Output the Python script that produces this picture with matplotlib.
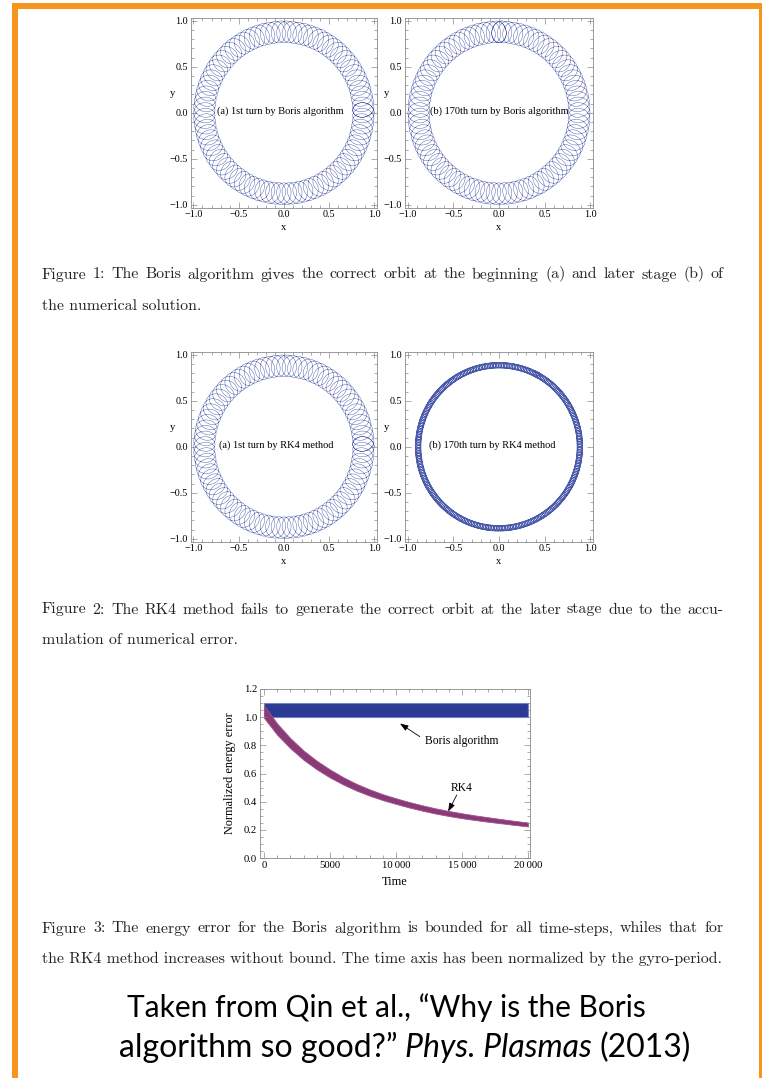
import numpy as np
import matplotlib
matplotlib.use("Agg")
import matplotlib.pyplot as plt
from matplotlib.patches import Rectangle
from matplotlib.ticker import MultipleLocator, FuncFormatter

W, H = 762, 1078

# orbit geometry: guiding-centre radius, gyro radius
# (radial / tangential), gyrations per turn, start angle of the turn (deg)
orbit_1a = dict(R=0.88, r=0.118, squeeze=0.8, loops=90, start=0)
orbit_1b = dict(R=0.88, r=0.118, squeeze=0.8, loops=90, start=88)
orbit_2a = dict(R=0.88, r=0.118, squeeze=0.8, loops=90, start=0)
orbit_2b = dict(R=0.886, r=0.031, squeeze=1.0, loops=320, start=60)

panel_labels = ["(a) 1st turn by Boris algorithm",
                "(b) 170th turn by Boris algorithm",
                "(a) 1st turn by RK4 method",
                "(b) 170th turn by RK4 method"]
label_x = [-0.04, 0.0, -0.08, -0.07]

# energy error (figure 3)
boris_t = [0, 20000]
boris_lo = [1.0, 1.0]
boris_hi = [1.1, 1.1]

rk4_t = [0, 1000, 2000, 3000, 4000, 5000, 6000, 7000, 8000, 9000, 10000,
         11000, 12000, 13000, 14000, 15000, 16000, 17000, 18000, 19000, 20000]
rk4_mid = [1.04, 0.915, 0.815, 0.73, 0.66, 0.60, 0.548, 0.503, 0.465, 0.432, 0.404,
           0.378, 0.355, 0.334, 0.316, 0.300, 0.286, 0.273, 0.261, 0.249, 0.238]
rk4_width = [0.09, 0.08, 0.072, 0.066, 0.061, 0.057, 0.052, 0.048, 0.045, 0.042, 0.04,
             0.039, 0.038, 0.037, 0.036, 0.035, 0.033, 0.032, 0.030, 0.029, 0.028]

time_ticks = [0, 5000, 10000, 15000, 20000]
time_labels = ["0", "5000", "10\u2009000", "15\u2009000", "20\u2009000"]

captions = [
    ("Figure 1: The Boris algorithm gives the correct orbit at the beginning (a) and later stage (b) of",
     "the numerical solution.", 278.5, 310),
    ("Figure 2: The RK4 method fails to generate the correct orbit at the later stage due to the accu-",
     "mulation of numerical error.", 613.5, 644.5),
    ("Figure 3: The energy error for the Boris algorithm is bounded for all time-steps, whiles that for",
     "the RK4 method increases without bound. The time axis has been normalized by the gyro-period.",
     932.5, 963.5),
]

SERIF = "Liberation Serif"
ORBIT_BLUE = "#4a5aaa"
FRAME = "#8a8a8a"

fig = plt.figure(figsize=(W / 100, H / 100), dpi=100)
fig.patch.set_facecolor("white")


def px_axes(left, top, right, bottom):
    return fig.add_axes([left / W, 1 - bottom / H, (right - left) / W, (bottom - top) / H])


def minus_fmt(v, pos):
    return f"{v:.1f}".replace("-", "\u2212")


def frame_style(ax, size=7.3):
    for sp in ax.spines.values():
        sp.set_color(FRAME)
        sp.set_linewidth(0.6)
    ax.tick_params(which="both", direction="in", top=True, right=True, color=FRAME,
                   width=0.5, labelsize=size, pad=2)
    ax.tick_params(which="major", length=4)
    ax.tick_params(which="minor", length=2)
    for lab in ax.get_xticklabels() + ax.get_yticklabels():
        lab.set_family(SERIF)


def gyro_orbit(R, r, squeeze, loops, start, turns=1.01, pts=60):
    s = np.linspace(0, 1, int(loops * turns * pts))
    phi = np.radians(start) + 2 * np.pi * turns * s
    psi = 2 * np.pi * loops * turns * s
    rad = R + r * np.cos(psi)
    tan = squeeze * r * np.sin(psi)
    x = rad * np.cos(phi) - tan * np.sin(phi)
    y = rad * np.sin(phi) + tan * np.cos(phi)
    return x, y


def orbit_panel(box, orbit, label, lx, lw=0.32):
    ax = px_axes(*box)
    x, y = gyro_orbit(**orbit)
    ax.plot(x, y, color=ORBIT_BLUE, lw=lw)
    ax.set_xlim(-1.03, 1.03)
    ax.set_ylim(-1.03, 1.03)
    ax.xaxis.set_major_locator(MultipleLocator(0.5))
    ax.yaxis.set_major_locator(MultipleLocator(0.5))
    ax.xaxis.set_minor_locator(MultipleLocator(0.1))
    ax.yaxis.set_minor_locator(MultipleLocator(0.1))
    ax.xaxis.set_major_formatter(FuncFormatter(minus_fmt))
    ax.yaxis.set_major_formatter(FuncFormatter(minus_fmt))
    frame_style(ax)
    ax.text(0.5, -0.105, "x", transform=ax.transAxes, ha="center", va="center",
            family=SERIF, fontsize=7.6)
    ax.text(-0.1, 0.6, "y", transform=ax.transAxes, ha="center", va="center",
            family=SERIF, fontsize=7.6)
    ax.text(lx, 0.02, label, ha="center", va="center", family=SERIF, fontsize=7.5)
    return ax


orbit_panel((190.7, 18, 377, 207.5), orbit_1a, panel_labels[0], label_x[0])
orbit_panel((405, 18, 593, 207.5), orbit_1b, panel_labels[1], label_x[1])
orbit_panel((190.7, 352, 377, 541.5), orbit_2a, panel_labels[2], label_x[2])
orbit_panel((405, 352, 593, 541.5), orbit_2b, panel_labels[3], label_x[3], lw=0.45)

# figure 3: energy error
ax3 = px_axes(260, 689, 530, 858)
ax3.fill_between(boris_t, boris_lo, boris_hi, color="#2b3a92", lw=0.8,
                 edgecolor="#7482c4")
mid = np.array(rk4_mid)
half = np.array(rk4_width) / 2
ax3.fill_between(rk4_t, mid - half, mid + half, color="#8b3a78", lw=0.6,
                 edgecolor="#a0528e")
ax3.set_xlim(-300, 20150)
ax3.set_ylim(0, 1.2)
ax3.set_xticks(time_ticks)
ax3.set_xticklabels(time_labels)
ax3.xaxis.set_minor_locator(MultipleLocator(1000))
ax3.yaxis.set_major_locator(MultipleLocator(0.2))
ax3.yaxis.set_minor_locator(MultipleLocator(0.05))
ax3.yaxis.set_major_formatter(FuncFormatter(minus_fmt))
frame_style(ax3, size=7.7)
ax3.text(-0.112, 0.5, "Normalized energy error", transform=ax3.transAxes, rotation=90,
         ha="center", va="center", family=SERIF, fontsize=8.8)
ax3.text(0.5, -0.14, "Time", transform=ax3.transAxes, ha="center", va="center",
         family=SERIF, fontsize=8.8)
arrow = dict(arrowstyle="-|>,head_length=0.5,head_width=0.18", color="black", lw=0.6,
             shrinkA=0, shrinkB=0)
ax3.annotate("", xy=(10300, 0.955), xytext=(11800, 0.862), arrowprops=arrow)
ax3.text(12200, 0.832, "Boris algorithm", ha="left", va="center", family=SERIF, fontsize=8.4)
ax3.annotate("", xy=(13950, 0.33), xytext=(14600, 0.447), arrowprops=arrow)
ax3.text(15000, 0.50, "RK4", ha="center", va="center", family=SERIF, fontsize=8.4)

# captions, justified like the LaTeX page
renderer = fig.canvas.get_renderer()
CAP = dict(family="cmr10", fontsize=11.45, color="#222222")


def text_width(s, **kw):
    t = fig.text(0, 0, s, **kw)
    w = t.get_window_extent(renderer).width
    t.remove()
    return w


def justify(line, x0, x1, base, **kw):
    words = line.split(" ")
    widths = [text_width(w, **kw) for w in words]
    gap = (x1 - x0 - sum(widths)) / (len(words) - 1)
    x = x0
    for w, wd in zip(words, widths):
        fig.text(x / W, 1 - base / H, w, ha="left", va="baseline", **kw)
        x += wd + gap


for first, second, b1, b2 in captions:
    justify(first, 41.7, 723.5, b1, **CAP)
    fig.text(41.7 / W, 1 - b2 / H, second, ha="left", va="baseline", **CAP)

# slide footer
fig.text(386 / W, 1 - 1017 / H, "Taken from Qin et al., \u201cWhy is the Boris",
         ha="center", va="baseline", family="Lato", fontsize=21.5, color="black")
SANS = dict(family="Lato", fontsize=23, color="black")
runs = [("algorithm so good?\u201d", "normal"), ("Phys. Plasmas", "italic"), ("(2013)", "normal")]
space = 0.24 * SANS["fontsize"] * 100 / 72
widths = [text_width(s, style=st, **SANS) for s, st in runs]
x = 405 - (sum(widths) + space * (len(runs) - 1)) / 2
for (s, st), wd in zip(runs, widths):
    fig.text(x / W, 1 - 1057 / H, s, style=st, ha="left", va="baseline", **SANS)
    x += wd + space

# orange slide frame
fig.patches.append(Rectangle((15 / W, 1 - 1080 / H), (762 - 15) / W, (1080 - 6) / H,
                             transform=fig.transFigure, fill=False, edgecolor="#f7941d",
                             lw=4.3, clip_on=False))

fig.savefig("out.png", dpi=100, facecolor="white")
